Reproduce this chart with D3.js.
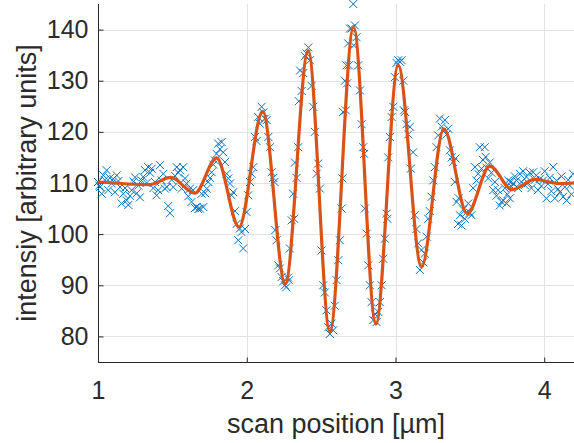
<!DOCTYPE html>
<html>
<head>
<meta charset="utf-8">
<script src="https://cdn.jsdelivr.net/npm/d3@7"></script>
<style>
  html, body { margin: 0; padding: 0; background: #fff; }
  svg { display: block; }
</style>
</head>
<body>
<svg id="chart" width="574" height="443"></svg>
<script>
// ---- data ----
const scanX = [
1.000,1.008,1.013,1.025,1.036,1.045,1.058,1.069,1.080,1.092,1.103,1.114,1.126,1.137,1.148,1.159,1.170,1.182,1.193,1.204,
1.215,1.226,1.238,1.249,1.260,1.271,1.282,1.293,1.304,1.316,1.327,1.338,1.350,1.361,1.372,1.383,1.394,1.405,1.417,1.428,
1.439,1.450,1.462,1.472,1.484,1.495,1.506,1.518,1.529,1.540,1.551,1.563,1.573,1.585,1.596,1.607,1.618,1.629,1.640,1.652,
1.663,1.674,1.685,1.697,1.708,1.720,1.731,1.741,1.753,1.764,1.775,1.786,1.797,1.808,1.820,1.831,1.842,1.853,1.865,1.876,
1.887,1.898,1.909,1.921,1.932,1.943,1.954,1.965,1.976,1.988,1.999,2.010,2.022,2.033,2.044,2.055,2.066,2.077,2.088,2.100,
2.111,2.122,2.134,2.145,2.156,2.167,2.178,2.186,2.192,2.200,2.212,2.223,2.234,2.246,2.257,2.265,2.278,2.284,2.290,2.302,
2.312,2.318,2.324,2.335,2.346,2.350,2.358,2.369,2.380,2.392,2.403,2.414,2.425,2.436,2.447,2.458,2.470,2.480,2.492,2.503,
2.514,2.525,2.536,2.548,2.559,2.570,2.581,2.592,2.604,2.615,2.626,2.638,2.643,2.648,2.660,2.666,2.671,2.675,2.682,2.686,
2.694,2.705,2.716,2.720,2.727,2.738,2.749,2.761,2.772,2.783,2.789,2.794,2.806,2.817,2.828,2.839,2.851,2.862,2.873,2.884,
2.895,2.907,2.917,2.929,2.940,2.945,2.951,2.962,2.974,2.985,2.996,3.007,3.018,3.030,3.041,3.052,3.057,3.063,3.074,3.086,
3.097,3.103,3.118,3.130,3.141,3.153,3.164,3.175,3.186,3.197,3.209,3.220,3.231,3.243,3.254,3.265,3.276,3.287,3.298,3.310,
3.321,3.332,3.343,3.354,3.366,3.377,3.388,3.399,3.404,3.411,3.421,3.426,3.433,3.444,3.455,3.466,3.478,3.489,3.500,3.511,
3.522,3.534,3.545,3.556,3.567,3.578,3.589,3.600,3.606,3.612,3.623,3.634,3.645,3.657,3.668,3.679,3.690,3.701,3.713,3.724,
3.735,3.747,3.752,3.758,3.769,3.774,3.780,3.791,3.802,3.813,3.825,3.836,3.847,3.858,3.869,3.880,3.891,3.903,3.914,3.925,
3.936,3.947,3.958,3.970,3.981,3.992,4.003,4.015,4.026,4.037,4.048,4.060,4.071,4.082,4.093,4.105,4.116,4.127,4.138,4.150,
4.161,4.172,4.183,4.194
];
const intensity = [
110.2,109.5,109.2,107.9,111.5,110.6,112.5,108.6,111.0,109.9,110.8,108.2,111.5,110.4,109.2,106.0,107.9,109.0,106.6,105.7,
107.5,108.6,110.3,111.1,108.0,109.5,107.2,110.5,111.2,112.5,110.0,113.1,112.0,112.8,109.0,110.2,107.6,108.6,113.5,110.5,
111.8,108.9,109.2,105.5,104.1,110.6,109.2,111.4,113.1,112.0,112.5,108.9,113.1,110.9,109.9,107.4,108.9,106.3,108.6,105.1,
105.3,104.9,105.0,107.9,105.3,108.0,108.9,110.2,111.0,112.1,113.6,114.4,115.7,117.7,116.6,118.0,116.0,114.1,111.8,110.9,
109.9,107.6,108.2,104.5,102.0,98.8,101.1,100.4,97.2,101.0,104.3,107.6,110.2,111.8,113.1,119.0,118.2,122.9,121.6,124.9,
123.8,122.6,122.3,119.0,117.0,112.1,111.0,110.2,100.8,98.8,93.9,93.3,91.6,90.8,90.0,89.6,91.5,91.0,97.2,102.7,
107.9,103.0,114.0,111.0,117.0,126.0,132.0,128.0,131.5,134.8,135.3,136.5,134.0,129.0,124.9,120.0,111.8,113.8,108.9,96.8,
90.0,88.6,85.1,81.8,80.5,82.5,81.2,86.0,91.0,94.9,98.8,105.0,110.9,123.9,130.0,124.2,133.0,129.5,137.3,133.0,
140.2,140.2,145.0,136.9,140.8,138.5,133.0,128.1,121.5,117.0,115.7,105.0,100.1,93.9,90.0,86.7,83.2,84.4,82.8,84.8,
86.7,90.0,95.2,99.1,104.0,103.0,115.0,119.0,122.9,124.9,130.7,133.5,134.0,133.7,134.0,130.0,124.2,123.9,121.5,119.5,
121.0,112.8,116.0,103.7,101.0,98.2,93.0,96.9,94.5,96.2,99.5,103.0,104.5,107.3,110.5,113.1,117.0,119.3,122.6,121.0,
120.2,122.3,119.5,120.6,116.4,115.0,114.1,110.2,114.8,106.3,102.0,107.0,103.7,101.7,104.8,103.0,104.3,106.0,104.2,103.7,
109.0,113.1,110.5,111.8,117.0,112.8,114.5,117.0,115.1,113.0,110.9,114.0,112.0,108.6,110.2,107.5,108.6,105.6,106.3,106.6,
109.0,106.0,107.8,110.5,107.0,110.2,109.3,109.9,111.3,110.5,109.0,111.8,110.2,112.3,109.6,111.2,110.0,112.0,109.0,112.1,
110.6,111.5,108.6,110.8,109.4,110.5,112.3,107.0,109.8,111.0,108.4,113.1,107.0,110.5,108.8,108.2,111.3,107.3,109.2,106.6,
110.6,109.5,107.8,111.8
];
// fitted curve: positions of its turning points and their values
const fitX = [1.00,1.35,1.489,1.651,1.797,1.948,2.107,2.259,2.413,2.559,2.718,2.868,3.018,3.175,3.325,3.482,3.634,3.784,3.937,4.10,4.20];
const fitY = [110.2,109.7,111.1,108.0,114.9,101.4,124.0,90.3,135.9,80.9,140.5,82.4,133.0,93.6,120.6,104.0,113.3,108.7,110.7,109.9,110.0];
const xTicks = [1, 2, 3, 4];
const yTicks = [80, 90, 100, 110, 120, 130, 140];
const xLabel = "scan position [µm]";
const yLabel = "intensiy [arbitrary units]";

// ---- layout ----
const pL = 98, pR = 574, pT = 4, pB = 362;
const fontFam = "'Liberation Sans', Arial, Helvetica, sans-serif";
const textColor = "#2b2b2b";
const axisColor = "#262626";

const svg = d3.select("#chart");
const xs = d3.scaleLinear().domain([1, 4.2]).range([pL, pR]);
const ys = d3.scaleLinear().domain([75, 145]).range([pB, pT]);

// grid
const grid = svg.append("g").attr("stroke", "#e3e3e3").attr("stroke-width", 1);
grid.selectAll("line.gx").data(xTicks).join("line")
  .attr("x1", d => Math.round(xs(d)) + 0.5).attr("x2", d => Math.round(xs(d)) + 0.5)
  .attr("y1", pT).attr("y2", pB);
grid.selectAll("line.gy").data(yTicks).join("line")
  .attr("y1", d => Math.round(ys(d)) + 0.5).attr("y2", d => Math.round(ys(d)) + 0.5)
  .attr("x1", pL).attr("x2", pR);

// axes via d3 axis, ticks pointing inward
const xAxis = d3.axisBottom(xs).tickValues(xTicks).tickSize(-5).tickPadding(19).tickFormat(d3.format("d"));
const yAxis = d3.axisLeft(ys).tickValues(yTicks).tickSize(-5).tickPadding(10).tickFormat(d3.format("d"));

const gx = svg.append("g").attr("transform", `translate(0,${pB + 0.5})`).call(xAxis);
const gy = svg.append("g").attr("transform", `translate(${pL + 0.5},0)`).call(yAxis);
[gx, gy].forEach(g => {
  g.select(".domain").attr("stroke", axisColor).attr("stroke-width", 1);
  g.selectAll(".tick line").attr("stroke", axisColor);
  g.selectAll(".tick text").attr("fill", textColor)
    .style("font-family", fontFam).style("font-size", "25px");
});
gx.select(".domain").attr("d", `M${pL},0H${pR}`);
gy.select(".domain").attr("d", `M0,${pT}V${pB}`);

// data markers (x crosses)
const pts = scanX.map((v, i) => [v, intensity[i]]);
const rr = 4;
svg.append("g").selectAll("path").data(pts).join("path")
  .attr("d", d => {
    const cx = xs(d[0]), cy = ys(d[1]);
    return `M${cx - rr},${cy - rr}L${cx + rr},${cy + rr}M${cx - rr},${cy + rr}L${cx + rr},${cy - rr}`;
  })
  .attr("stroke", "#0072BD").attr("stroke-width", 1).attr("fill", "none");

// fitted curve
const fit = fitX.map((v, i) => [v, fitY[i]]);
svg.append("path").datum(fit)
  .attr("d", d3.line().x(d => xs(d[0])).y(d => ys(d[1])).curve(d3.curveMonotoneX))
  .attr("fill", "none").attr("stroke", "#D95319").attr("stroke-width", 3.2)
  .attr("stroke-linejoin", "round");

// axis labels
svg.append("text").attr("x", (pL + pR) / 2).attr("y", 433)
  .attr("text-anchor", "middle").attr("fill", textColor)
  .style("font-family", fontFam).style("font-size", "27px").text(xLabel);
svg.append("text").attr("transform", `translate(36,${(pT + pB) / 2}) rotate(-90)`)
  .attr("text-anchor", "middle").attr("fill", textColor)
  .style("font-family", fontFam).style("font-size", "27px").text(yLabel);
</script>
</body>
</html>
